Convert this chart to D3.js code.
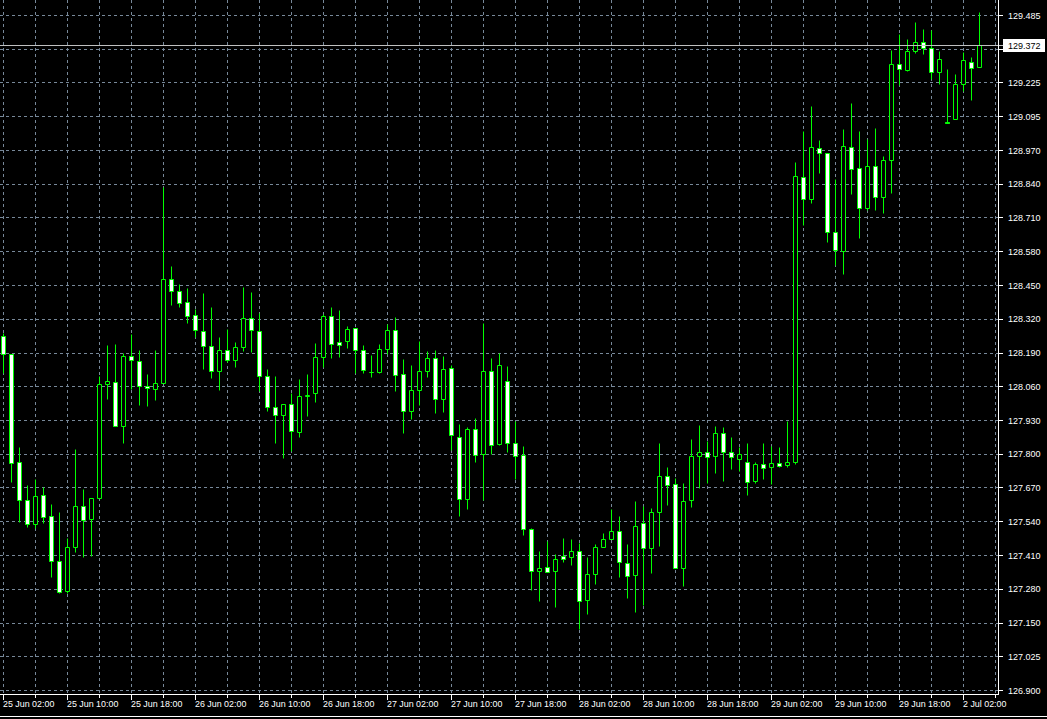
<!DOCTYPE html>
<html><head><meta charset="utf-8">
<script src="https://cdn.jsdelivr.net/npm/d3@7"></script>
<style>html,body{margin:0;padding:0;background:#000;overflow:hidden}</style>
</head><body><svg id="c" width="1047" height="719"></svg>
<script>
const opens = [128.256,128.186,127.772,127.626,127.534,127.646,127.565,127.393,127.278,127.446,
127.603,127.554,127.634,128.071,128.078,127.910,128.178,128.159,128.063,128.052,
128.074,128.473,128.427,128.385,128.335,128.274,128.216,128.120,128.201,128.163,
128.212,128.323,128.274,128.101,127.983,127.952,127.994,127.887,128.025,128.036,
128.174,128.331,128.232,128.235,128.285,128.201,128.117,128.117,128.205,128.277,
128.109,127.967,128.048,128.120,128.170,128.013,128.132,127.868,127.630,127.898,
127.803,128.120,127.841,128.083,127.845,127.799,127.515,127.354,127.370,127.354,
127.412,127.408,127.431,127.243,127.343,127.446,127.477,127.508,127.385,127.339,
127.538,127.442,127.580,127.718,127.688,127.366,127.626,127.795,127.810,127.795,
127.883,127.810,127.783,127.772,127.699,127.764,127.753,127.768,127.763,127.772,
128.863,128.779,128.975,128.955,128.653,128.580,128.978,128.898,128.745,128.906,
128.787,128.929,129.296,129.273,129.346,129.380,129.357,129.266,129.076,129.086,
129.220,129.304,129.285];
const highs = [128.266,128.186,127.831,127.685,127.707,127.677,127.612,127.582,127.481,127.822,
127.668,127.634,128.101,128.221,128.225,128.189,128.263,128.202,128.110,128.202,
128.825,128.524,128.455,128.439,128.358,128.419,128.366,128.251,128.281,128.232,
128.442,128.423,128.343,128.128,128.101,127.994,128.036,128.090,128.109,128.228,
128.339,128.366,128.354,128.293,128.285,128.220,128.182,128.224,128.300,128.328,
128.166,128.143,128.235,128.197,128.201,128.178,128.143,127.917,127.906,127.940,
128.304,128.170,128.189,128.141,127.929,127.833,127.519,127.431,127.469,127.420,
127.481,127.477,127.462,127.408,127.458,127.500,127.592,127.565,127.458,127.623,
127.603,127.596,127.845,127.753,127.711,127.692,127.860,127.914,127.852,127.910,
127.906,127.868,127.829,127.845,127.772,127.845,127.833,127.830,127.930,128.921,
129.040,129.135,129.005,128.955,128.856,129.047,129.147,129.040,129.009,129.051,
128.944,129.351,129.411,129.392,129.457,129.430,129.426,129.346,129.277,129.258,
129.342,129.323,129.495];
const lows = [128.113,127.698,127.544,127.523,127.519,127.538,127.331,127.270,127.270,127.427,
127.410,127.414,127.634,128.013,127.910,127.845,128.053,127.993,127.989,128.012,
128.074,128.373,128.366,128.307,128.251,128.128,128.094,128.048,128.155,128.136,
128.197,128.193,128.044,127.967,127.845,127.787,127.814,127.868,127.948,128.002,
128.136,128.170,128.174,128.209,128.113,128.113,128.097,128.113,128.186,128.044,
127.883,127.937,127.990,128.097,127.960,127.963,127.818,127.565,127.592,127.772,
127.626,127.803,127.837,127.812,127.709,127.492,127.284,127.240,127.351,127.217,
127.389,127.377,127.132,127.190,127.305,127.446,127.477,127.331,127.252,127.199,
127.225,127.347,127.450,127.607,127.366,127.297,127.600,127.672,127.692,127.730,
127.699,127.745,127.737,127.646,127.692,127.707,127.688,127.753,127.755,127.765,
128.682,128.764,128.879,128.614,128.526,128.492,128.798,128.630,128.737,128.737,
128.726,128.804,129.216,129.269,129.338,129.335,129.239,129.220,129.071,129.086,
129.193,129.158,129.285];
const closes = [128.186,127.768,127.626,127.534,127.642,127.561,127.393,127.274,127.446,127.603,
127.550,127.634,128.071,128.082,127.910,128.178,128.163,128.063,128.055,128.074,
128.473,128.427,128.381,128.331,128.277,128.216,128.120,128.201,128.163,128.212,
128.323,128.277,128.101,127.983,127.952,127.994,127.891,128.025,128.029,128.174,
128.331,128.224,128.220,128.281,128.201,128.124,128.117,128.205,128.277,128.105,
127.967,128.048,128.120,128.170,128.013,128.128,127.875,127.630,127.898,127.799,
128.120,127.837,128.143,127.845,127.795,127.515,127.354,127.366,127.351,127.400,
127.400,127.431,127.240,127.343,127.446,127.477,127.508,127.389,127.335,127.527,
127.442,127.580,127.718,127.684,127.366,127.623,127.795,127.810,127.791,127.883,
127.810,127.791,127.803,127.695,127.764,127.749,127.768,127.757,127.772,128.867,
128.779,128.978,128.955,128.653,128.584,128.982,128.894,128.745,128.906,128.787,
128.929,129.296,129.277,129.346,129.380,129.357,129.266,129.315,129.071,129.220,
129.312,129.281,129.372];
const timeLabels = ["25 Jun 02:00","25 Jun 10:00","25 Jun 18:00","26 Jun 02:00","26 Jun 10:00",
"26 Jun 18:00","27 Jun 02:00","27 Jun 10:00","27 Jun 18:00","28 Jun 02:00","28 Jun 10:00",
"28 Jun 18:00","29 Jun 02:00","29 Jun 10:00","29 Jun 18:00","2 Jul 02:00"];
const timeLabelBars = [0,8,16,24,32,40,48,56,64,72,80,88,96,104,112,120];
const priceLabels = ["129.485","129.355","129.225","129.095","128.970","128.840","128.710",
"128.580","128.450","128.320","128.190","128.060","127.930","127.800","127.670","127.540",
"127.410","127.280","127.150","127.025","126.900"];
const priceMin = 126.900, priceMax = 129.485;
const lastPrice = 129.372;

const svg = d3.select("#c");
const W = 1047, H = 719;
const plotRight = 998, plotBottom = 694;
svg.append("rect").attr("width", W).attr("height", H).attr("fill", "#000");

const n = opens.length;
const x = d3.scaleLinear().domain([0, 1]).range([3.5, 11.5]);
const y = d3.scaleLinear().domain([priceMin, priceMax]).range([690.5, 15.5]);
const snap = v => Math.round(v - 0.5) + 0.5;

const gridColor = "#778899";
const nTicks = priceLabels.length;
const tickVals = d3.range(nTicks).map(k => priceMax - k * (priceMax - priceMin) / (nTicks - 1));
const g = svg.append("g");
g.selectAll("line.h").data(tickVals).join("line")
  .attr("x1", 0).attr("x2", plotRight).attr("y1", d => snap(y(d))).attr("y2", d => snap(y(d)))
  .attr("stroke", gridColor).attr("stroke-dasharray", "3,3").attr("stroke-width", 1);
const vBars = d3.range(0, 125, 4);
g.selectAll("line.v").data(vBars).join("line")
  .attr("x1", d => x(d)).attr("x2", d => x(d)).attr("y1", 0).attr("y2", plotBottom)
  .attr("stroke", gridColor).attr("stroke-dasharray", "3,3").attr("stroke-width", 1);

const idx = d3.range(n);
const cg = svg.append("g");
cg.selectAll("line.w").data(idx).join("line")
  .attr("x1", i => x(i)).attr("x2", i => x(i))
  .attr("y1", i => snap(y(highs[i]))).attr("y2", i => snap(y(lows[i])))
  .attr("stroke", "#00ff00").attr("stroke-width", 1);
cg.selectAll("path.b").data(idx).join("path")
  .attr("d", i => {
    const t = snap(y(Math.max(opens[i], closes[i])));
    const b = snap(y(Math.min(opens[i], closes[i])));
    const cx = x(i);
    return `M${cx-2},${t}H${cx+2}V${b}H${cx-2}Z`;
  })
  .attr("fill", i => closes[i] < opens[i] ? "#ffffff" : "#000000")
  .attr("stroke", "#00ff00").attr("stroke-width", 1);

const yl = snap(y(lastPrice));
svg.append("line").attr("x1", 0).attr("x2", 1003).attr("y1", yl).attr("y2", yl)
  .attr("stroke", "#c0c0c0").attr("stroke-width", 1);

svg.append("line").attr("x1", plotRight + 0.5).attr("x2", plotRight + 0.5).attr("y1", 0).attr("y2", plotBottom + 1)
  .attr("stroke", "#ffffff");
svg.append("line").attr("x1", 0).attr("x2", plotRight + 1).attr("y1", plotBottom + 0.5).attr("y2", plotBottom + 0.5)
  .attr("stroke", "#ffffff");
svg.append("line").attr("x1", 0).attr("x2", W).attr("y1", 716.5).attr("y2", 716.5)
  .attr("stroke", "#ffffff");

const font = "Liberation Sans, Arial, sans-serif";
const pa = svg.append("g");
pa.selectAll("line").data(tickVals).join("line")
  .attr("x1", plotRight + 1).attr("x2", plotRight + 5)
  .attr("y1", d => snap(y(d))).attr("y2", d => snap(y(d))).attr("stroke", "#ffffff");
pa.selectAll("text").data(tickVals).join("text")
  .attr("x", 1008).attr("y", d => y(d)).attr("dy", "0.35em")
  .attr("fill", "#ffffff").attr("font-family", font).attr("font-size", "9px")
  .text((d, k) => priceLabels[k]);

svg.append("rect").attr("x", 1003).attr("y", yl - 6.5).attr("width", 42).attr("height", 13).attr("fill", "#ffffff");
svg.append("text").attr("x", 1008).attr("y", yl).attr("dy", "0.35em")
  .attr("fill", "#000").attr("font-family", font).attr("font-size", "9px").text(lastPrice.toFixed(3));

const ta = svg.append("g");
ta.selectAll("line").data(vBars).join("line")
  .attr("x1", d => x(d)).attr("x2", d => x(d)).attr("y1", plotBottom + 1).attr("y2", plotBottom + 4)
  .attr("stroke", "#ffffff");
ta.selectAll("line.big").data(timeLabelBars).join("line")
  .attr("x1", d => x(d)).attr("x2", d => x(d)).attr("y1", plotBottom + 1).attr("y2", plotBottom + 6)
  .attr("stroke", "#ffffff");
ta.selectAll("text").data(timeLabelBars).join("text")
  .attr("x", d => x(d) - 0.5).attr("y", 703.5).attr("dy", "0.35em")
  .attr("fill", "#ffffff").attr("font-family", font).attr("font-size", "8.9px")
  .text((d, k) => timeLabels[k]);
</script></body></html>
